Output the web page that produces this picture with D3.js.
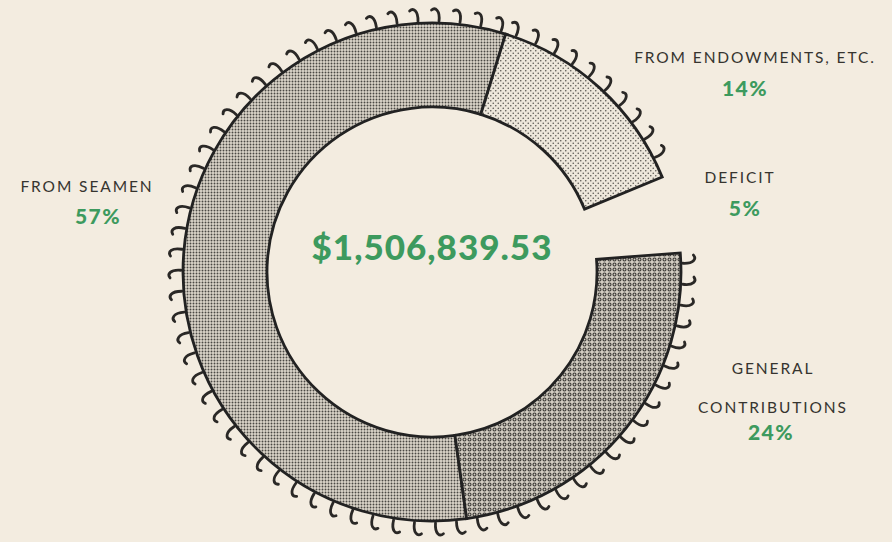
<!DOCTYPE html>
<html>
<head>
<meta charset="utf-8">
<script src="https://cdn.jsdelivr.net/npm/d3@7"></script>
<style>
  body { margin: 0; background: #f3ece0; }
  svg { display: block; }
</style>
</head>
<body>
<div id="chart"></div>
<script>
// Data
const categories = ['FROM SEAMEN', 'FROM ENDOWMENTS, ETC.', 'DEFICIT', 'GENERAL CONTRIBUTIONS'];
const shares = [57, 14, 5, 24];
const shareLabels = ['57%', '14%', '5%', '24%'];
const totalLabel = '$1,506,839.53';

const width = 892, height = 542;
const cx = 432, cy = 272;
const outerR = 249, innerR = 165;

// label placement (layout only)
const labelLayout = [
    {x: 87, lines: [192], pct: 224, dx: 11},
    {x: 755, lines: [63], pct: 96, dx: -10},
    {x: 740, lines: [183], pct: 216, dx: 5},
    {x: 773, lines: [374, 413], pct: 440, dx: -2}
];
const labelLines = [['FROM SEAMEN'], ['FROM ENDOWMENTS, ETC.'], ['DEFICIT'], ['GENERAL', 'CONTRIBUTIONS']];

const svg = d3.select('#chart')
    .append('svg')
    .attr('width', width)
    .attr('height', height);

svg.append('rect')
    .attr('width', width)
    .attr('height', height)
    .attr('fill', '#f3ece0');

// screen patterns for the fills
const defs = svg.append('defs');

const pSeamen = defs.append('pattern')
    .attr('id', 'p-seamen')
    .attr('patternUnits', 'userSpaceOnUse')
    .attr('width', 3).attr('height', 3);
pSeamen.append('rect').attr('width', 3).attr('height', 3).attr('fill', '#dcd6ca');
pSeamen.append('circle').attr('cx', 1.5).attr('cy', 1.5).attr('r', 0.95).attr('fill', '#4a4844');

const pEndow = defs.append('pattern')
    .attr('id', 'p-endow')
    .attr('patternUnits', 'userSpaceOnUse')
    .attr('width', 5).attr('height', 5);
pEndow.append('rect').attr('width', 5).attr('height', 5).attr('fill', '#ede7db');
pEndow.append('circle').attr('cx', 1.25).attr('cy', 1.25).attr('r', 0.8).attr('fill', '#5a5752');
pEndow.append('circle').attr('cx', 3.75).attr('cy', 3.75).attr('r', 0.8).attr('fill', '#5a5752');

const pGeneral = defs.append('pattern')
    .attr('id', 'p-general')
    .attr('patternUnits', 'userSpaceOnUse')
    .attr('width', 5).attr('height', 5);
pGeneral.append('rect').attr('width', 5).attr('height', 5).attr('fill', '#d3cdc2');
pGeneral.append('circle').attr('cx', 2.5).attr('cy', 2.5).attr('r', 1.5)
    .attr('fill', 'none').attr('stroke', '#3a3835').attr('stroke-width', 1.1);

const fills = ['url(#p-seamen)', 'url(#p-endow)', 'none', 'url(#p-general)'];

const startA = 172 * Math.PI / 180;

const pie = d3.pie()
    .sort(null)
    .value(d => d)
    .startAngle(startA)
    .endAngle(startA + 2 * Math.PI);

const arcs = pie(shares);

const arc = d3.arc()
    .innerRadius(innerR)
    .outerRadius(outerR);

const g = svg.append('g')
    .attr('transform', 'translate(' + cx + ',' + cy + ')');

// hooks round the outside, skipping the deficit gap
function pt(r, a) {
    return [r * Math.sin(a), -r * Math.cos(a)];
}
const deg = Math.PI / 180;
const hooks = [];
arcs.forEach((d, i) => {
    if (i === 2) return;
    d3.range(d.startAngle + 2.4 * deg, d.endAngle - 0.5 * deg, 4.8 * deg).forEach(a => hooks.push(a));
});

g.selectAll('path.hook')
    .data(hooks)
    .join('path')
    .attr('class', 'hook')
    .attr('d', a => {
        const p0 = pt(outerR + 2, a),
            c1 = pt(outerR + 13, a + 0.2 * deg),
            c2 = pt(outerR + 16, a - 0.9 * deg),
            p1 = pt(outerR + 13, a - 1.7 * deg);
        return 'M' + p0 + 'C' + c1 + ' ' + c2 + ' ' + p1;
    })
    .attr('fill', 'none')
    .attr('stroke', '#2a2826')
    .attr('stroke-width', 2.8)
    .attr('stroke-linecap', 'round');

// segments
g.selectAll('path.seg')
    .data(arcs.filter((d, i) => i !== 2))
    .join('path')
    .attr('class', 'seg')
    .attr('d', arc)
    .attr('fill', d => fills[d.index])
    .attr('stroke', '#222')
    .attr('stroke-width', 2.8)
    .attr('stroke-linejoin', 'miter');

// centre total
svg.append('text')
    .attr('x', cx)
    .attr('y', 260)
    .attr('text-anchor', 'middle')
    .attr('font-family', 'Lato, sans-serif')
    .attr('font-weight', 900)
    .attr('font-size', 35)
    .attr('letter-spacing', 1)
    .attr('fill', '#3d9a5e')
    .text(totalLabel);

// labels
categories.forEach((c, i) => {
    const L = labelLayout[i];
    labelLines[i].forEach((line, j) => {
        svg.append('text')
            .attr('x', L.x)
            .attr('y', L.lines[j])
            .attr('text-anchor', 'middle')
            .attr('font-family', 'Lato, sans-serif')
            .attr('font-size', 15.5)
            .attr('letter-spacing', 1.9)
            .attr('fill', '#36342f')
            .text(line);
    });
    svg.append('text')
        .attr('x', L.x + L.dx)
        .attr('y', L.pct)
        .attr('text-anchor', 'middle')
        .attr('font-family', 'Lato, sans-serif')
        .attr('font-weight', 900)
        .attr('font-size', 21)
        .attr('letter-spacing', 1.5)
        .attr('fill', '#3d9a5e')
        .text(shareLabels[i]);
});
</script>
</body>
</html>
